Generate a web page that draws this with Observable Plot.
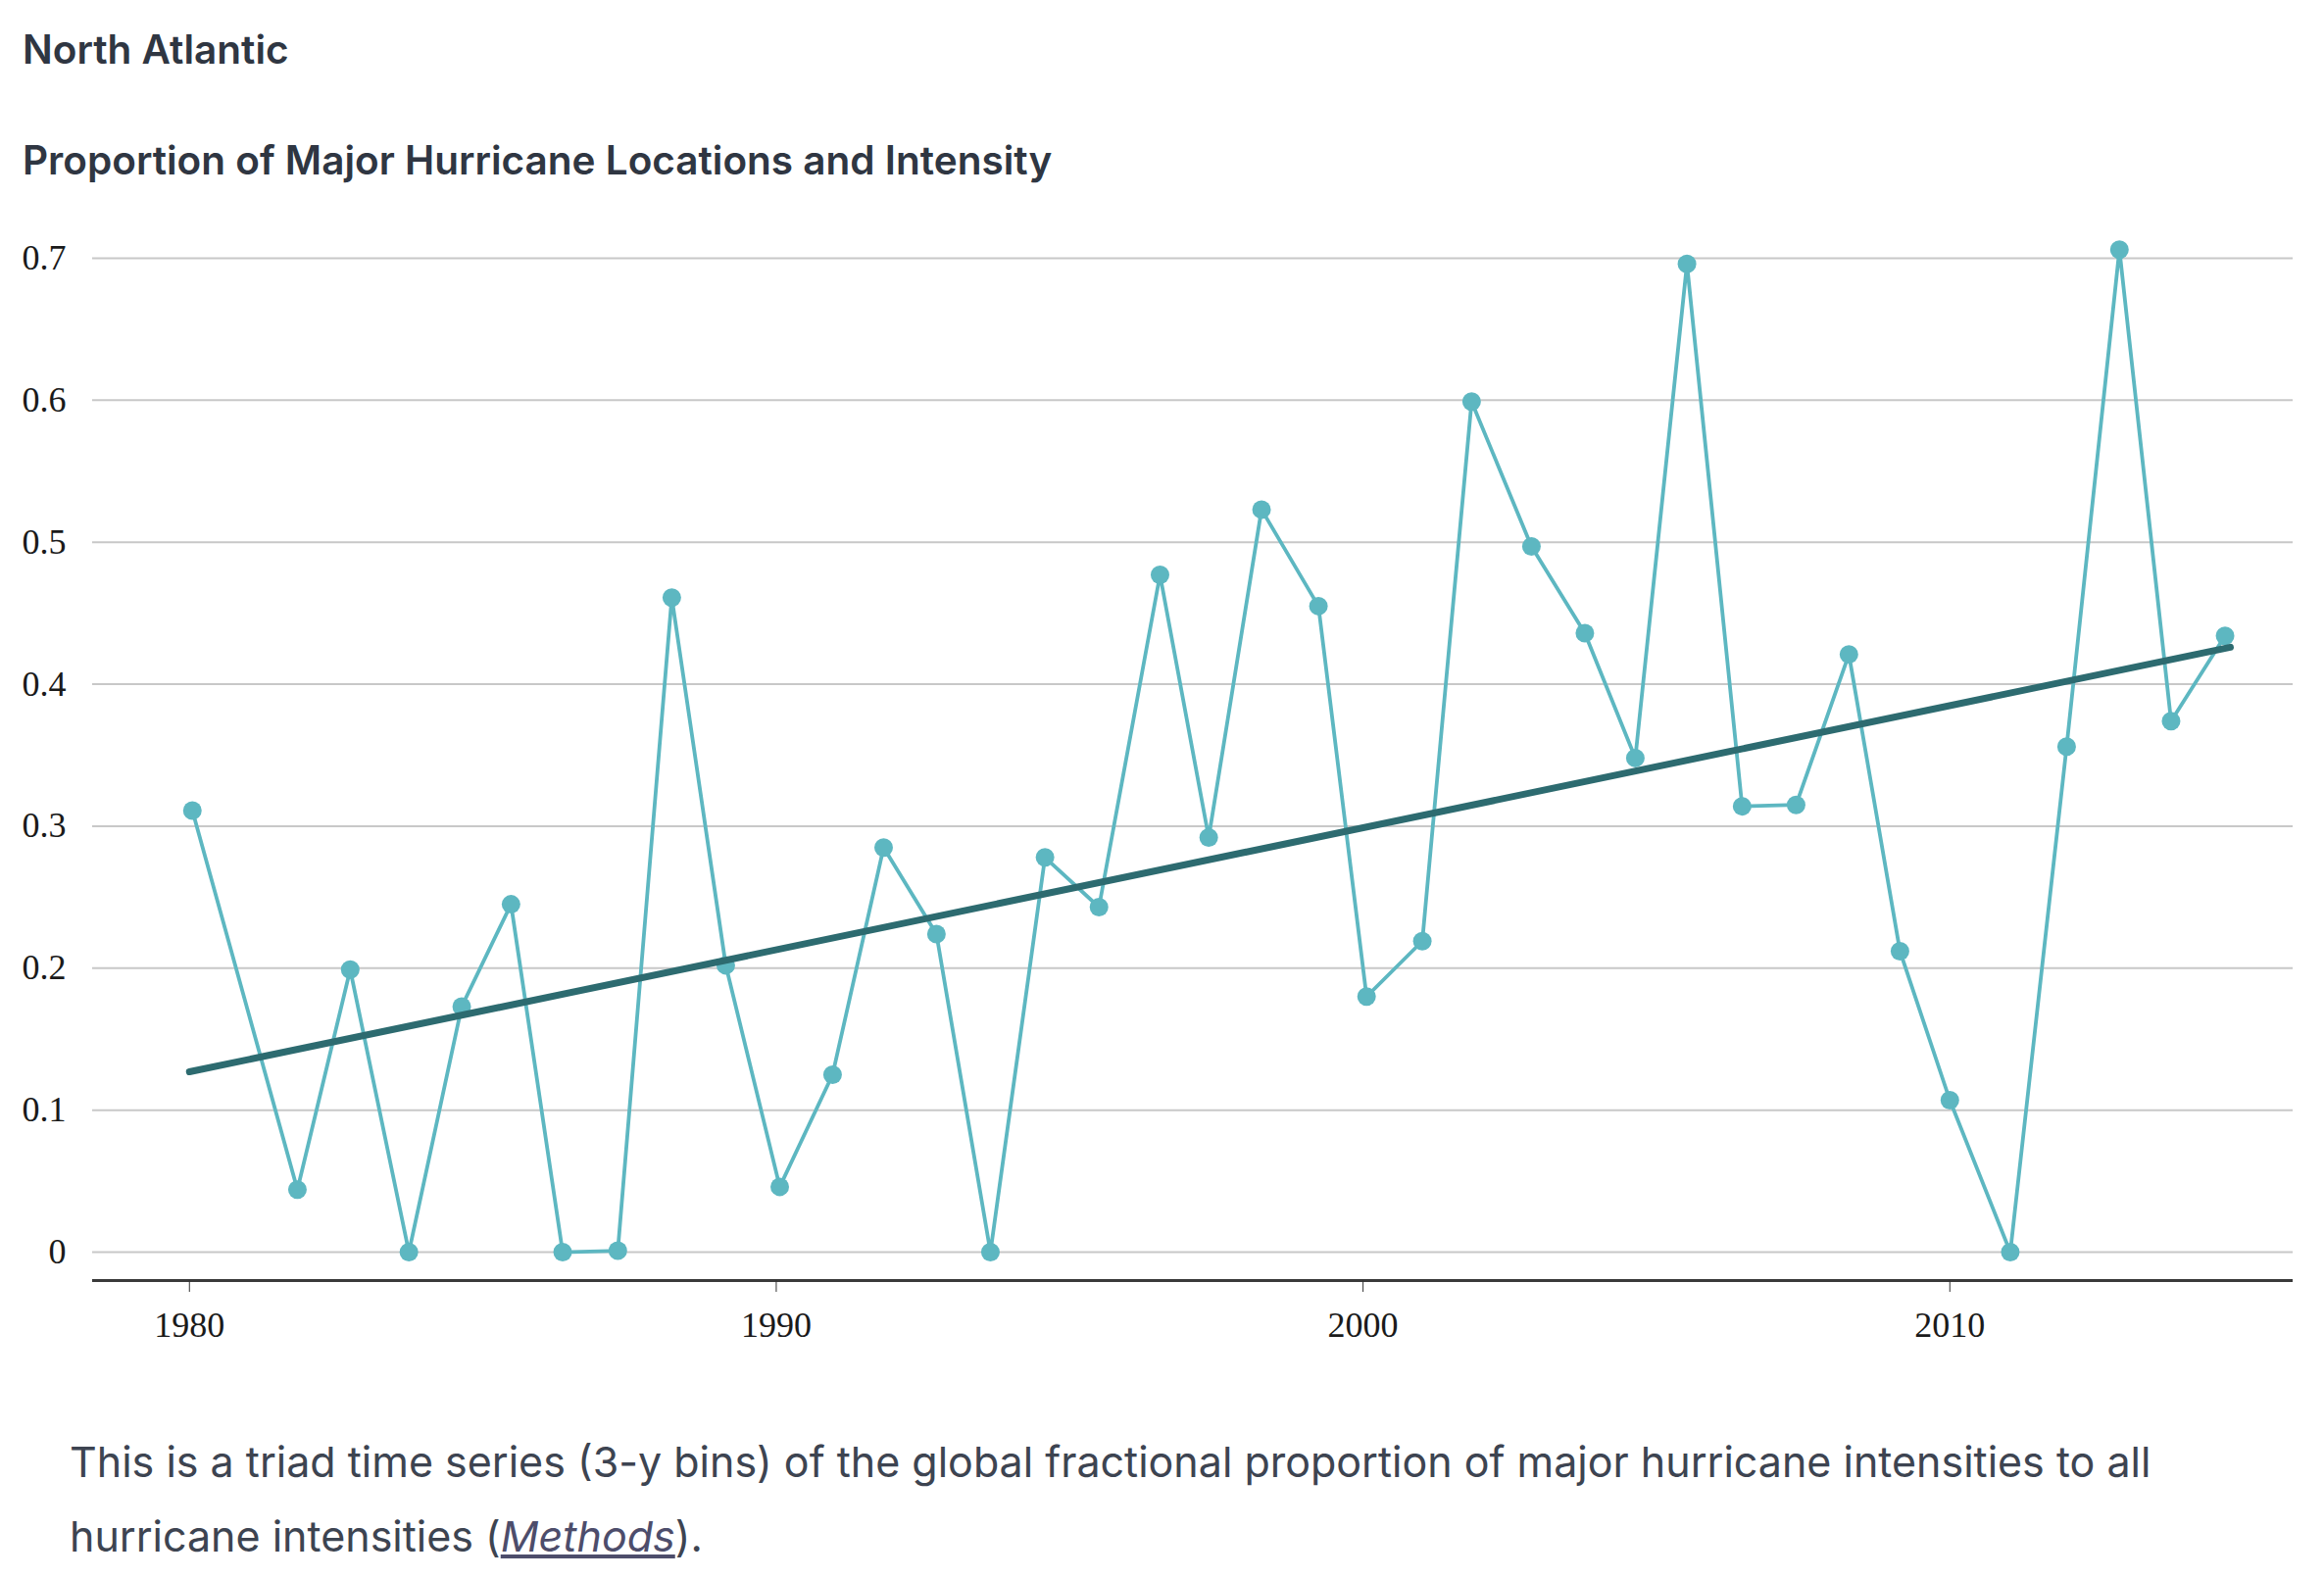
<!DOCTYPE html>
<html>
<head>
<meta charset="utf-8">
<script src="https://cdn.jsdelivr.net/npm/d3@7"></script>
<script src="https://cdn.jsdelivr.net/npm/@observablehq/plot@0.6"></script>
<style>
  html, body { margin: 0; padding: 0; background: #ffffff; }
  body { position: relative; width: 2371px; height: 1611px; overflow: hidden; }
  .hdr { position: absolute; left: 23px; font-family: Inter, "Noto Sans", sans-serif; font-weight: 600; font-size: 40.5px; line-height: 40.5px; color: #2f3642; white-space: nowrap; }
  #title { top: 31px; }
  #subtitle { top: 144px; }
  #chart { position: absolute; left: 0; top: 200px; }
  #caption { position: absolute; left: 71px; top: 1453px; font-family: Inter, "Noto Sans", sans-serif; font-weight: 400; font-size: 43px; line-height: 76px; color: #3d4451; white-space: nowrap; }
  #caption a { color: #4d4d6b; font-style: italic; text-decoration: underline; }
</style>
</head>
<body>
<div class="hdr" id="title">North Atlantic</div>
<div class="hdr" id="subtitle">Proportion of Major Hurricane Locations and Intensity</div>
<div id="chart"></div>
<div id="caption">This is a triad time series (3-y bins) of the global fractional proportion of major hurricane intensities to all<br>hurricane intensities (<a>Methods</a>).</div>
<script>
// Series: time (decimal years) and proportion values
const years = [1980.05, 1981.84, 1982.74, 1983.74, 1984.64, 1985.48, 1986.36, 1987.30, 1988.22, 1989.14,
               1990.06, 1990.96, 1991.83, 1992.73, 1993.65, 1994.58, 1995.50, 1996.54, 1997.37, 1998.27,
               1999.24, 2000.06, 2001.01, 2001.85, 2002.87, 2003.78, 2004.64, 2005.52, 2006.46, 2007.38,
               2008.28, 2009.15, 2010.00, 2011.03, 2011.99, 2012.89, 2013.77, 2014.69];
const values = [0.311, 0.044, 0.199, 0.000, 0.173, 0.245, 0.000, 0.001, 0.461, 0.202,
                0.046, 0.125, 0.285, 0.224, 0.000, 0.278, 0.243, 0.477, 0.292, 0.523,
                0.455, 0.180, 0.219, 0.599, 0.497, 0.436, 0.348, 0.696, 0.314, 0.315,
                0.421, 0.212, 0.107, 0.000, 0.356, 0.706, 0.374, 0.434];
// Linear trend line endpoints
const trendYears = [1980.0, 2014.78];
const trendValues = [0.127, 0.426];
// Ticks
const yTicks = [0, 0.1, 0.2, 0.3, 0.4, 0.5, 0.6, 0.7];
const xTicks = [1980, 1990, 2000, 2010];
const xDomain = [1978.35, 2015.85];
const yDomain = [-0.02, 0.72];

const series = years.map((x, i) => ({x, y: values[i]}));
const trend = trendYears.map((x, i) => ({x, y: trendValues[i]}));

const chart = Plot.plot({
  width: 2371,
  height: 1186,
  marginLeft: 94,
  marginRight: 32,
  marginTop: 34,
  marginBottom: 80,
  x: {domain: xDomain},
  y: {domain: yDomain},
  style: {fontFamily: "'Liberation Serif', 'DejaVu Serif', serif", fontSize: "36px", color: "#1a1a1a", background: "#ffffff"},
  marks: [
    Plot.ruleY(yTicks, {stroke: "#c8c8c8", strokeWidth: 2}),
    Plot.ruleY([yDomain[0]], {stroke: "#3a3a3a", strokeWidth: 3}),
    Plot.axisY({ticks: yTicks, tickSize: 0, tickPadding: 27, label: null,
                tickFormat: d => d === 0 ? "0" : d.toFixed(1)}),
    Plot.axisX({ticks: xTicks, tickSize: 12, tickPadding: 20, label: null, stroke: "#333",
                tickFormat: d => String(d)}),
    Plot.line(series, {x: "x", y: "y", stroke: "#5db7c1", strokeWidth: 3.8}),
    Plot.dot(series, {x: "x", y: "y", r: 9.5, fill: "#5db7c1"}),
    Plot.line(trend, {x: "x", y: "y", stroke: "#2d6b70", strokeWidth: 7, strokeLinecap: "round"})
  ]
});
document.getElementById("chart").appendChild(chart);
</script>
</body>
</html>
